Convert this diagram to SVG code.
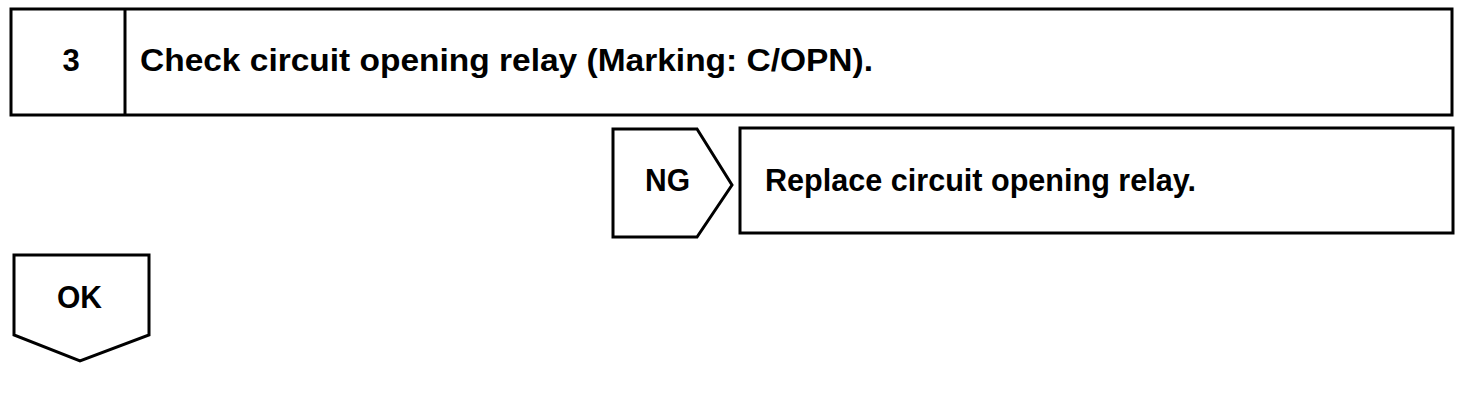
<svg xmlns="http://www.w3.org/2000/svg" width="1472" height="408" viewBox="0 0 1472 408">
<style>
.box{fill:#fff;stroke:#000;stroke-width:3}
.t{font-family:"Liberation Sans",Arial,sans-serif;font-weight:bold;font-size:31px;fill:#000}
</style>
<rect width="1472" height="408" fill="#fff"/>
<g id="step3">
<rect class="box" x="11" y="9" width="1441" height="106"/>
<line class="box" x1="125" y1="9" x2="125" y2="115"/>
<text class="t" x="71" y="71" text-anchor="middle">3</text>
<text class="t" x="140" y="71" textLength="733" lengthAdjust="spacingAndGlyphs">Check circuit opening relay (Marking: C/OPN).</text>
</g>
<g id="ng">
<path class="box" d="M613,129 H697 L732,185 L697,237 H613 Z"/>
<text class="t" x="645" y="191" textLength="45" lengthAdjust="spacingAndGlyphs">NG</text>
</g>
<g id="replace">
<rect class="box" x="740" y="128" width="713" height="105"/>
<text class="t" x="765" y="191" textLength="431" lengthAdjust="spacingAndGlyphs">Replace circuit opening relay.</text>
</g>
<g id="ok">
<path class="box" d="M14,255 H149 V335 L80,361 L14,335 Z"/>
<text class="t" x="57" y="308" textLength="45" lengthAdjust="spacingAndGlyphs">OK</text>
</g>
<g id="connectors"></g>
</svg>
